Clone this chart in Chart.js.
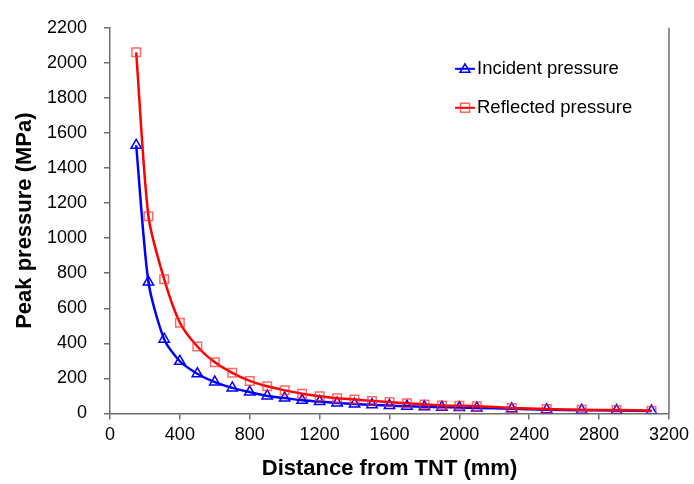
<!DOCTYPE html>
<html>
<head>
<meta charset="utf-8">
<script src="https://cdn.jsdelivr.net/npm/chart.js@4/dist/chart.umd.min.js"></script>
<style>
  html, body { margin: 0; padding: 0; background: #ffffff; }
  #wrap { width: 694px; height: 484px; }
</style>
</head>
<body>
<div id="wrap"><canvas id="pressureChart" width="694" height="484"></canvas></div>
<script>
// distance from charge (mm)
const distances = [150, 220, 310, 400, 500, 600, 700, 800, 900, 1000, 1100, 1200, 1300,
  1400, 1500, 1600, 1700, 1800, 1900, 2000, 2100, 2300, 2500, 2700, 2900, 3100];

// peak pressures (MPa)
const incidentPressure = [1530, 750, 424, 298, 227, 179, 146, 122, 100, 88, 75, 68, 60,
  54, 50, 45, 42, 38, 36, 34, 32, 27, 22, 19, 17, 14];
const reflectedPressure = [2060, 1125, 766, 518, 382, 292, 232, 186, 155, 132, 113, 99, 87,
  80, 72, 65, 58, 52, 46, 44, 42, 32, 25, 21, 20, 16];

const seriesNames = ["Incident pressure", "Reflected pressure"];
const xTitle = "Distance from TNT (mm)";
const yTitle = "Peak pressure (MPa)";

const FONT = "'Liberation Sans', Arial, sans-serif";
const AXIS_COLOR = "#6f6f6f";

function toPoints(values) {
  return distances.map((d, i) => ({ x: d, y: values[i] }));
}

/**
 * Legend drawn inside the plot area, Excel style (line + marker + label)
 */
const insideLegend = {
  id: "insideLegend",
  afterDraw(chart) {
    const ctx = chart.ctx;
    const area = chart.chartArea;
    const x0 = area.left + 345;
    const rows = [
      { y: area.top + 41, color: "#0000ff", marker: "triangle", label: seriesNames[0] },
      { y: area.top + 80, color: "#ff0000", marker: "square", label: seriesNames[1] },
    ];

    ctx.save();
    rows.forEach(r => {
      ctx.strokeStyle = r.color;
      ctx.lineWidth = 2;
      ctx.beginPath();
      ctx.moveTo(x0, r.y);
      ctx.lineTo(x0 + 20, r.y);
      ctx.stroke();

      const cx = x0 + 10;
      ctx.lineWidth = 1.5;
      ctx.beginPath();
      if (r.marker === "triangle") {
        ctx.strokeStyle = "#0000ff";
        ctx.moveTo(cx, r.y - 5);
        ctx.lineTo(cx + 5, r.y + 3.5);
        ctx.lineTo(cx - 5, r.y + 3.5);
        ctx.closePath();
      } else {
        ctx.strokeStyle = "rgba(255, 40, 40, 0.7)";
        ctx.rect(cx - 4.5, r.y - 4.5, 9, 9);
      }
      ctx.stroke();

      ctx.fillStyle = "#000000";
      ctx.font = "18.5px " + FONT;
      ctx.textAlign = "left";
      ctx.textBaseline = "middle";
      ctx.fillText(r.label, x0 + 22, r.y);
    });

    // plot area right border
    ctx.strokeStyle = AXIS_COLOR;
    ctx.lineWidth = 1.5;
    ctx.beginPath();
    ctx.moveTo(area.right, area.top);
    ctx.lineTo(area.right, area.bottom);
    ctx.stroke();
    ctx.restore();
  },
};

const ctx = document.getElementById("pressureChart").getContext("2d");

new Chart(ctx, {
  type: "line",
  data: {
    datasets: [
      {
        label: seriesNames[0],
        data: toPoints(incidentPressure),
        borderColor: "#0000ff",
        borderWidth: 2.5,
        pointStyle: "triangle",
        pointRadius: 6,
        pointBorderWidth: 1.5,
        pointBorderColor: "#0000ff",
        pointBackgroundColor: "rgba(0,0,0,0)",
        tension: 0.25,
        fill: false,
        order: 1,
      },
      {
        label: seriesNames[1],
        data: toPoints(reflectedPressure),
        borderColor: "#ff0000",
        borderWidth: 2.5,
        pointStyle: "rect",
        pointRadius: 6,
        pointBorderWidth: 1.5,
        pointBorderColor: "rgba(255, 40, 40, 0.7)",
        pointBackgroundColor: "rgba(0,0,0,0)",
        tension: 0.25,
        fill: false,
        order: 0,
      },
    ],
  },
  options: {
    responsive: false,
    animation: false,
    layout: { padding: { top: 23, right: 23, left: 0, bottom: 0 } },
    plugins: {
      legend: { display: false },
      tooltip: { enabled: false },
    },
    scales: {
      x: {
        type: "linear",
        min: 0,
        max: 3200,
        afterFit: (scale) => { scale.height = 70.5; },
        border: { display: true, color: AXIS_COLOR, width: 1.5 },
        grid: { drawOnChartArea: false, drawTicks: true, tickLength: 6, color: AXIS_COLOR, lineWidth: 1.5 },
        ticks: {
          stepSize: 400,
          autoSkip: false,
          padding: 5,
          color: "#000000",
          maxRotation: 0,
          font: { family: FONT, size: 18 },
          callback: (v) => String(v),
        },
        title: {
          display: true,
          text: xTitle,
          color: "#000000",
          font: { family: FONT, size: 22, weight: "bold", lineHeight: 1 },
          padding: { top: 0, bottom: 4 },
        },
      },
      y: {
        type: "linear",
        min: 0,
        max: 2200,
        afterFit: (scale) => { scale.width = 110; },
        border: { display: true, color: AXIS_COLOR, width: 1.5 },
        grid: { drawOnChartArea: false, drawTicks: true, tickLength: 6, color: AXIS_COLOR, lineWidth: 1.5 },
        ticks: {
          stepSize: 200,
          autoSkip: false,
          padding: 17,
          color: "#000000",
          font: { family: FONT, size: 18 },
          callback: (v) => String(v),
        },
        title: {
          display: true,
          text: yTitle,
          color: "#000000",
          font: { family: FONT, size: 22, weight: "bold", lineHeight: 1 },
          padding: { top: 14, bottom: 0 },
        },
      },
    },
  },
  plugins: [insideLegend],
});
</script>
</body>
</html>
